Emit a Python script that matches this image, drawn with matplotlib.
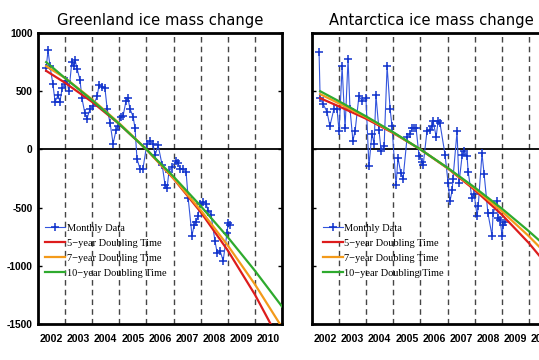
import numpy as np
import matplotlib
matplotlib.use("Agg")
import matplotlib.pyplot as plt

# ---- Greenland monthly data ----
gl_year = [2002.30, 2002.37, 2002.44, 2002.55, 2002.63, 2002.74, 2002.81, 2002.89,
           2003.00, 2003.07, 2003.14, 2003.25, 2003.33, 2003.37, 2003.44, 2003.55,
           2003.62, 2003.73, 2003.81, 2003.92, 2004.03, 2004.18, 2004.25, 2004.36,
           2004.47, 2004.55, 2004.66, 2004.77, 2004.88, 2004.95, 2005.06, 2005.14,
           2005.25, 2005.32, 2005.39, 2005.51, 2005.58, 2005.65, 2005.76, 2005.87,
           2006.02, 2006.13, 2006.24, 2006.32, 2006.43, 2006.58, 2006.69, 2006.76,
           2006.83, 2006.94, 2007.09, 2007.17, 2007.24, 2007.35, 2007.46, 2007.54,
           2007.68, 2007.76, 2007.83, 2007.90, 2007.98, 2008.09, 2008.20, 2008.27,
           2008.38, 2008.53, 2008.61, 2008.72, 2008.83, 2008.97, 2009.01, 2009.08]
gl_mass = [700, 850, 720, 560, 410, 465, 410, 525,
           565, 585, 500, 755, 720, 765, 695, 595,
           440, 310, 265, 350, 370, 455, 550, 540,
           525, 350, 225, 50, 165, 200, 280, 290,
           420, 440, 350, 280, 180, -80, -165, -165,
           50, 70, 50, -50, 35, -135, -310, -335,
           -190, -150, -100, -120, -165, -165, -190, -420,
           -740, -650, -620, -575, -465, -450, -465, -525,
           -560, -790, -890, -875, -955, -720, -635, -650]

# ---- Antarctica monthly data ----
an_year = [2002.26, 2002.30, 2002.41, 2002.55, 2002.66, 2002.81, 2002.92, 2003.00,
           2003.11, 2003.22, 2003.33, 2003.40, 2003.51, 2003.59, 2003.73, 2003.85,
           2003.99, 2004.10, 2004.21, 2004.29, 2004.36, 2004.47, 2004.55, 2004.66,
           2004.77, 2004.88, 2004.95, 2005.10, 2005.17, 2005.28, 2005.36, 2005.51,
           2005.62, 2005.69, 2005.77, 2005.84, 2005.95, 2006.06, 2006.10, 2006.24,
           2006.35, 2006.43, 2006.47, 2006.58, 2006.65, 2006.72, 2006.91, 2007.02,
           2007.09, 2007.17, 2007.20, 2007.35, 2007.42, 2007.54, 2007.61, 2007.72,
           2007.76, 2007.90, 2007.98, 2008.09, 2008.13, 2008.27, 2008.35, 2008.49,
           2008.64, 2008.68, 2008.83, 2008.86, 2008.94, 2009.01, 2009.05, 2009.12]
an_mass = [840, 440, 390, 325, 200, 350, 350, 155,
           715, 180, 780, 350, 75, 160, 455, 420,
           440, -145, 135, 50, 465, 165, -10, 25,
           715, 350, 200, -310, -75, -205, -250, 110,
           135, 180, 180, 180, -60, -105, -135, 155,
           165, 205, 240, 110, 240, 225, -50, -290,
           -445, -350, -250, 155, -290, -50, -10, -60,
           -190, -420, -380, -575, -490, -35, -215, -550,
           -740, -550, -440, -590, -610, -740, -650, -620]

# ---- doubling-time curves, read at yearly points ----
fit_year = [2002.3, 2003, 2004, 2005, 2006, 2007, 2008, 2009, 2010, 2011]
gl_5yr = [675, 572, 407, 217, 0, -251, -538, -868, -1247, -1682]
gl_7yr = [715, 613, 429, 224, 0, -248, -522, -825, -1159, -1529]
gl_10yr = [750, 612, 422, 218, 0, -234, -486, -754, -1042, -1350]
an_5yr = [440, 369, 263, 140, 0, -162, -348, -560, -805, -1086]
an_7yr = [475, 394, 276, 144, 0, -160, -336, -531, -746, -983]
an_10yr = [500, 413, 283, 147, 0, -158, -327, -508, -703, -910]

years = list(range(2002, 2011))
yticks = [1000, 500, 0, -500, -1000, -1500]

fig = plt.figure(figsize=(5.39, 3.6), dpi=100)
fig.patch.set_facecolor("white")

panels = [
    ("Greenland ice mass change", gl_year, gl_mass, gl_5yr, gl_7yr, gl_10yr, 38, 160),
    ("Antarctica ice mass change", an_year, an_mass, an_5yr, an_7yr, an_10yr, 312, 431),
]

for i, (title, t, m, c5, c7, c10, left_px, title_px) in enumerate(panels):
    ax = fig.add_axes([left_px / 539, 36 / 360, 244 / 539, 291 / 360])
    ax.set_xlim(2002, 2011)
    ax.set_ylim(-1500, 1000)

    for yr in range(2003, 2011):
        ax.axvline(yr, color="#444444", lw=1.0, dashes=(4, 3), zorder=1)
    ax.axhline(0, color="black", lw=1.3, zorder=1)

    ax.plot(t, m, color="#3355dd", lw=0.8, marker="+", ms=6, mew=1.1,
            mec="#1133cc", label="Monthly Data", zorder=3)
    ax.plot(fit_year, c5, color="#dd1c1c", lw=1.6, label="5\u2212year Doubling Time", zorder=4)
    ax.plot(fit_year, c7, color="#f39a1a", lw=1.6, label="7\u2212year Doubling Time", zorder=4)
    ax.plot(fit_year, c10, color="#2eaa2e", lw=1.6, label="10\u2212year Doubling Time", zorder=5)

    for s in ax.spines.values():
        s.set_linewidth(2.0)

    ax.set_yticks(yticks)
    ax.tick_params(axis="y", direction="in", length=3, width=1, left=True, right=True)
    if i == 0:
        ax.set_yticklabels([str(v) for v in yticks], fontweight="bold",
                           fontsize=7.4, family="Liberation Sans")
        ax.tick_params(axis="y", pad=4)
    else:
        ax.set_yticklabels([])

    ax.set_xticks([y + 0.5 for y in years])
    ax.set_xticklabels([str(y) for y in years], fontweight="bold",
                       fontsize=7.6, family="Liberation Sans")
    ax.tick_params(axis="x", length=0, pad=7)

    leg = ax.legend(loc="upper left", bbox_to_anchor=(0.03 if i == 0 else 0.045, 0.345),
                    frameon=False, borderpad=0, borderaxespad=0,
                    prop={"family": "Liberation Serif", "size": 7.5},
                    handlelength=1.9, handletextpad=0.15, labelspacing=0.55,
                    numpoints=1)

    fig.text(title_px / 539, 1 - 20 / 360, title, ha="center", va="center",
             fontsize=10.6, family="DejaVu Sans")

fig.savefig("out.png", dpi=100, facecolor="white")
